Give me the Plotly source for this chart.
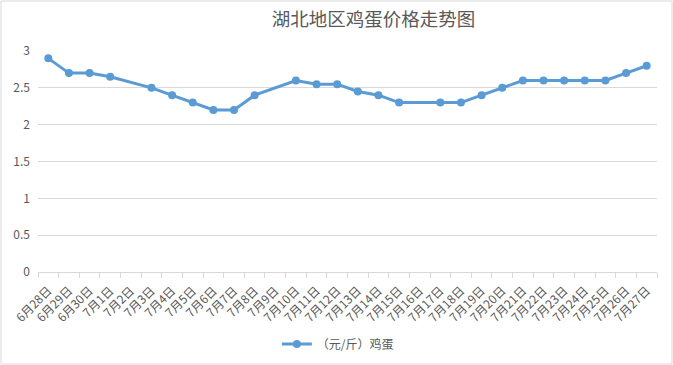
import plotly.graph_objects as go

categories = ["6月28日", "6月29日", "6月30日", "7月1日", "7月2日", "7月3日", "7月4日", "7月5日",
              "7月6日", "7月7日", "7月8日", "7月9日", "7月10日", "7月11日", "7月12日", "7月13日",
              "7月14日", "7月15日", "7月16日", "7月17日", "7月18日", "7月19日", "7月20日", "7月21日",
              "7月22日", "7月23日", "7月24日", "7月25日", "7月26日", "7月27日"]
egg_price = [2.9, 2.7, 2.7, 2.65, None, 2.5, 2.4, 2.3,
             2.2, 2.2, 2.4, None, 2.6, 2.55, 2.55, 2.45,
             2.4, 2.3, None, 2.3, 2.3, 2.4, 2.5, 2.6,
             2.6, 2.6, 2.6, 2.6, 2.7, 2.8]
series_name = "（元/斤）鸡蛋"
title_text = "湖北地区鸡蛋价格走势图"
y_ticks = [0, 0.5, 1, 1.5, 2, 2.5, 3]
y_tick_labels = ["0", "0.5", "1", "1.5", "2", "2.5", "3"]

font_family = "Noto Sans CJK SC, Microsoft YaHei, sans-serif"
text_color = "#595959"

fig = go.Figure()
fig.add_trace(go.Scatter(
    x=categories, y=egg_price, name=series_name, mode="lines+markers",
    connectgaps=True,
    line=dict(color="#5B9BD5", width=3),
    marker=dict(color="#5B9BD5", size=8),
))

fig.update_layout(
    width=673, height=365,
    margin=dict(l=38, r=16, t=51, b=93),
    paper_bgcolor="white", plot_bgcolor="white",
    font=dict(family=font_family, color=text_color, size=11),
    title=dict(text=title_text, x=0.555, xanchor="center", y=1 - 20/365, yanchor="middle",
               font=dict(size=18.5, color=text_color, family=font_family)),
    showlegend=True,
    legend=dict(orientation="h", xref="container", yref="container",
                x=0.502, xanchor="center", y=1 - 344/365, yanchor="middle",
                font=dict(size=12, color=text_color)),
    xaxis=dict(type="category", range=[-0.5, 29.5], tickangle=-45, automargin=False,
               showgrid=False, showline=True, linecolor="#D9D9D9", linewidth=1,
               ticks="outside", tickson="boundaries", ticklen=5, tickcolor="#D9D9D9",
               ticklabelstandoff=6,
               tickfont=dict(size=12, color=text_color), zeroline=False),
    yaxis=dict(range=[0, 3], tickvals=y_ticks, ticktext=y_tick_labels, automargin=False,
               showgrid=True, gridcolor="#D9D9D9", gridwidth=1, showline=False,
               zeroline=False, ticks="", ticklabelstandoff=7,
               tickfont=dict(size=12, color=text_color)),
)

fig.add_shape(type="rect", xref="paper", yref="paper",
              x0=-37/619, x1=1+15/619, y0=-92/221, y1=1+50/221,
              line=dict(color="#D9D9D9", width=1), fillcolor="rgba(0,0,0,0)", layer="below")

fig.write_html("out.html", config={"displayModeBar": False},
               post_script="document.body.style.margin='0';")
